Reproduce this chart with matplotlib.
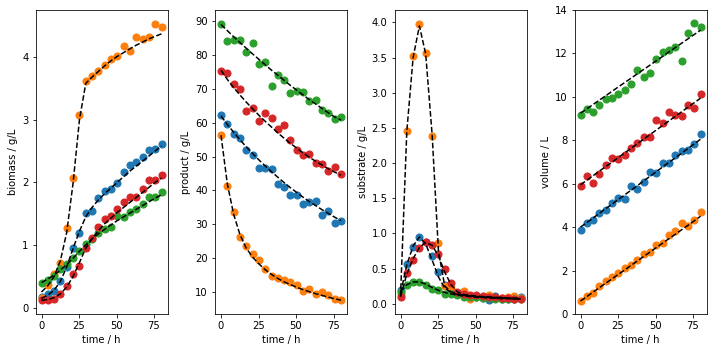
import numpy as np
import matplotlib
matplotlib.use('Agg')
import matplotlib.pyplot as plt

# sampling times (h)
time = [0, 4.2, 8.4, 12.6, 16.8, 21.1, 25.3, 29.5, 33.7, 37.9,
        42.1, 46.3, 50.5, 54.7, 58.9, 63.2, 67.4, 71.6, 75.8, 80]

# measured data, one list per run (C0 blue, C1 orange, C2 green, C3 red)
biomass_blue = [0.17, 0.22, 0.27, 0.43, 0.65, 0.95, 1.19, 1.51, 1.54, 1.75,
                1.87, 1.90, 1.99, 2.17, 2.28, 2.33, 2.40, 2.51, 2.53, 2.61]
biomass_orange = [0.16, 0.37, 0.53, 0.72, 1.27, 2.07, 3.08, 3.61, 3.70, 3.78,
                  3.87, 3.97, 4.02, 4.18, 4.09, 4.32, 4.29, 4.32, 4.53, 4.48]
biomass_green = [0.40, 0.45, 0.51, 0.61, 0.70, 0.80, 0.91, 1.01, 1.10, 1.20,
                 1.26, 1.28, 1.46, 1.44, 1.53, 1.58, 1.66, 1.77, 1.77, 1.85]
biomass_red = [0.13, 0.13, 0.14, 0.22, 0.34, 0.54, 0.66, 0.95, 1.11, 1.29,
               1.41, 1.46, 1.57, 1.68, 1.76, 1.76, 1.89, 2.03, 2.03, 2.11]

product_blue = [62.3, 59.7, 56.7, 55.6, 52.0, 50.5, 46.7, 46.5, 46.2, 42.0,
                41.0, 38.8, 38.8, 36.1, 36.7, 36.9, 32.8, 34.0, 30.5, 31.1]
product_orange = [56.3, 41.3, 33.6, 26.2, 23.6, 21.2, 19.5, 16.8, 14.7, 14.1,
                  13.5, 12.9, 12.0, 10.3, 11.0, 9.4, 10.0, 9.1, 7.9, 7.6]
product_green = [89.2, 84.2, 84.5, 84.5, 80.9, 83.6, 77.4, 77.8, 70.9, 74.1,
                 72.7, 68.8, 69.5, 69.1, 66.3, 66.8, 63.9, 62.9, 61.2, 61.7]
product_red = [75.3, 74.7, 71.5, 69.9, 63.6, 64.4, 60.5, 62.9, 61.4, 58.0,
               59.4, 54.9, 52.0, 50.5, 50.8, 48.1, 47.9, 45.6, 47.0, 45.0]

substrate_blue = [0.20, 0.57, 0.80, 0.95, 0.88, 0.68, 0.45, 0.27, 0.20, 0.15,
                  0.12, 0.10, 0.10, 0.08, 0.05, 0.11, 0.07, 0.07, 0.06, 0.09]
substrate_orange = [0.12, 2.45, 3.52, 3.98, 3.56, 2.38, 0.86, 0.25, 0.22, 0.15,
                    0.18, 0.07, 0.10, 0.10, 0.13, 0.08, 0.08, 0.10, 0.11, 0.08]
substrate_green = [0.17, 0.27, 0.31, 0.31, 0.27, 0.21, 0.19, 0.14, 0.14, 0.12,
                   0.10, 0.09, 0.09, 0.08, 0.08, 0.07, 0.07, 0.07, 0.06, 0.06]
substrate_red = [0.10, 0.43, 0.62, 0.79, 0.88, 0.84, 0.70, 0.49, 0.29, 0.17,
                 0.14, 0.13, 0.12, 0.11, 0.10, 0.10, 0.08, 0.08, 0.07, 0.06]

volume_blue = [3.89, 4.21, 4.35, 4.63, 4.81, 5.09, 5.32, 5.28, 5.88, 5.74,
               6.06, 6.53, 6.48, 6.94, 6.94, 7.31, 7.50, 7.55, 7.82, 8.29]
volume_orange = [0.60, 0.83, 0.97, 1.30, 1.53, 1.71, 1.90, 2.13, 2.27, 2.50,
                 2.78, 2.87, 3.19, 3.29, 3.66, 3.80, 4.21, 4.07, 4.35, 4.68]
volume_green = [9.17, 9.44, 9.31, 9.63, 9.91, 9.95, 10.14, 10.32, 10.60, 11.25,
                10.93, 11.11, 11.76, 12.08, 12.18, 12.31, 11.67, 12.92, 13.38, 13.24]
volume_red = [5.90, 6.34, 6.03, 6.45, 6.87, 7.18, 7.13, 7.31, 7.64, 7.87,
              8.15, 8.15, 8.94, 8.78, 9.31, 9.17, 9.12, 9.63, 9.49, 10.14]

# fitted model curves
fit_biomass_blue = [0.15, 0.20, 0.28, 0.42, 0.65, 0.95, 1.22, 1.45, 1.60, 1.72,
                    1.82, 1.91, 2.00, 2.09, 2.18, 2.26, 2.34, 2.42, 2.50, 2.58]
fit_biomass_orange = [0.25, 0.35, 0.50, 0.75, 1.20, 2.00, 3.00, 3.58, 3.68, 3.77,
                      3.86, 3.94, 4.01, 4.07, 4.13, 4.19, 4.24, 4.29, 4.33, 4.37]
fit_biomass_green = [0.40, 0.46, 0.52, 0.60, 0.69, 0.79, 0.90, 1.00, 1.10, 1.18,
                     1.25, 1.32, 1.39, 1.45, 1.51, 1.57, 1.63, 1.69, 1.75, 1.80]
fit_biomass_red = [0.12, 0.13, 0.16, 0.22, 0.33, 0.50, 0.72, 0.95, 1.10, 1.23,
                   1.34, 1.43, 1.52, 1.60, 1.68, 1.76, 1.84, 1.92, 2.00, 2.07]

fit_product_blue = [62.0, 59.5, 57.2, 55.0, 52.9, 50.9, 49.0, 47.2, 45.5, 43.9,
                    42.3, 40.8, 39.4, 38.0, 36.7, 35.5, 34.3, 33.2, 32.1, 31.1]
fit_product_orange = [56.3, 42.0, 33.0, 27.0, 23.0, 20.3, 18.3, 16.6, 15.2, 14.0,
                      13.0, 12.2, 11.4, 10.7, 10.1, 9.5, 9.0, 8.5, 8.0, 7.6]
fit_product_green = [89.0, 87.2, 85.4, 83.7, 82.0, 80.3, 78.7, 77.1, 75.5, 74.0,
                     72.5, 71.0, 69.6, 68.2, 66.8, 65.5, 64.2, 62.9, 61.7, 60.8]
fit_product_red = [75.5, 72.8, 70.4, 68.2, 66.1, 64.1, 62.2, 60.4, 58.7, 57.0,
                   55.4, 53.9, 52.5, 51.1, 49.8, 48.6, 47.5, 46.4, 45.4, 44.5]

fit_substrate_blue = [0.15, 0.55, 0.82, 0.95, 0.85, 0.62, 0.38, 0.22, 0.16, 0.13,
                      0.12, 0.11, 0.10, 0.09, 0.09, 0.08, 0.08, 0.08, 0.07, 0.07]
fit_substrate_orange = [0.10, 2.45, 3.50, 3.95, 3.55, 2.40, 0.75, 0.25, 0.17, 0.14,
                        0.12, 0.11, 0.10, 0.10, 0.09, 0.09, 0.09, 0.08, 0.08, 0.08]
fit_substrate_green = [0.17, 0.27, 0.31, 0.31, 0.28, 0.23, 0.19, 0.16, 0.14, 0.12,
                       0.11, 0.10, 0.09, 0.09, 0.08, 0.08, 0.07, 0.07, 0.07, 0.06]
fit_substrate_red = [0.10, 0.42, 0.64, 0.80, 0.87, 0.83, 0.68, 0.45, 0.27, 0.17,
                     0.13, 0.12, 0.11, 0.10, 0.10, 0.09, 0.08, 0.08, 0.07, 0.07]

fit_volume_blue = [4.00, 4.21, 4.42, 4.64, 4.85, 5.06, 5.28, 5.49, 5.70, 5.91,
                   6.13, 6.34, 6.55, 6.77, 6.98, 7.19, 7.40, 7.62, 7.83, 8.05]
fit_volume_orange = [0.60, 0.80, 1.01, 1.21, 1.42, 1.62, 1.83, 2.03, 2.24, 2.44,
                     2.65, 2.85, 3.06, 3.26, 3.47, 3.67, 3.88, 4.08, 4.29, 4.50]
fit_volume_green = [9.25, 9.45, 9.65, 9.85, 10.05, 10.26, 10.46, 10.66, 10.86, 11.06,
                    11.26, 11.46, 11.66, 11.86, 12.07, 12.27, 12.47, 12.67, 12.87, 13.07]
fit_volume_red = [5.95, 6.16, 6.37, 6.58, 6.79, 7.00, 7.21, 7.42, 7.63, 7.84,
                  8.05, 8.26, 8.47, 8.68, 8.89, 9.10, 9.31, 9.52, 9.73, 9.94]

panels = [
    ('biomass / g/L', [biomass_blue, biomass_orange, biomass_green, biomass_red],
     [fit_biomass_blue, fit_biomass_orange, fit_biomass_green, fit_biomass_red]),
    ('product / g/L', [product_blue, product_orange, product_green, product_red],
     [fit_product_blue, fit_product_orange, fit_product_green, fit_product_red]),
    ('substrate / g/L', [substrate_blue, substrate_orange, substrate_green, substrate_red],
     [fit_substrate_blue, fit_substrate_orange, fit_substrate_green, fit_substrate_red]),
    ('volume / L', [volume_blue, volume_orange, volume_green, volume_red],
     [fit_volume_blue, fit_volume_orange, fit_volume_green, fit_volume_red]),
]

fig = plt.figure(figsize=(712 / 72, 352 / 72), dpi=72)
lefts = [35.5, 215, 394.5, 574.5]
for left, (ylabel, data, fits) in zip(lefts, panels):
    ax = fig.add_axes([left / 712, 38 / 352, 132 / 712, 304 / 352])
    for i in range(4):
        ax.scatter(time, data[i], color='C%d' % i, s=50)
        ax.plot(time, fits[i], 'k--')
    ax.set_xlabel('time / h')
    ax.set_ylabel(ylabel)
    if ylabel == 'volume / L':
        ax.set_ylim(0, 14)

fig.savefig('out.png', dpi=72)
